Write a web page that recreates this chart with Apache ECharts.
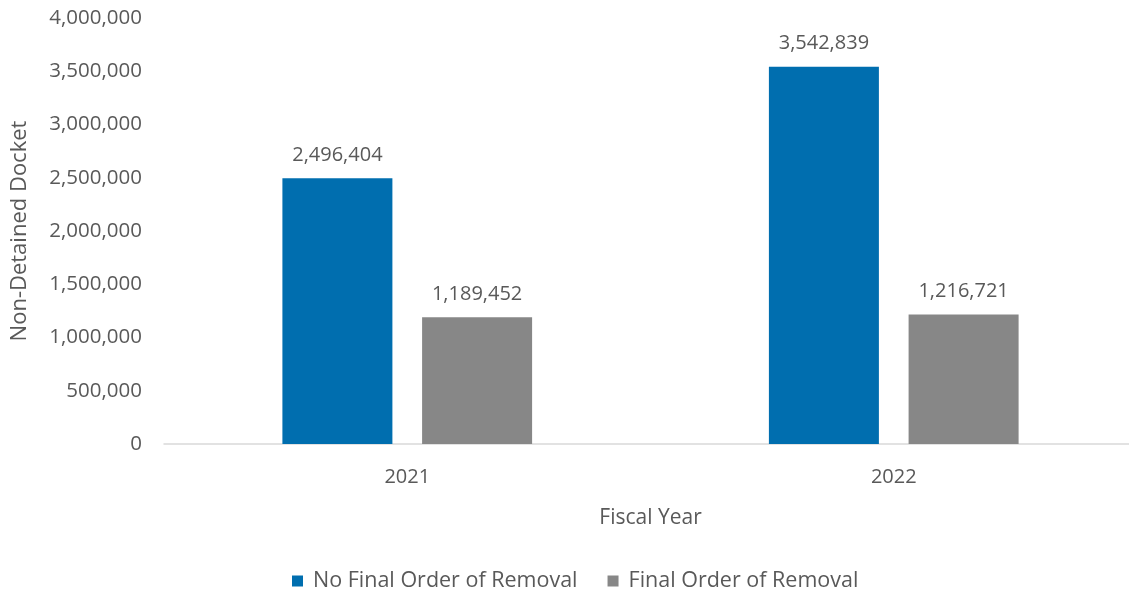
<!DOCTYPE html>
<html><head><meta charset="utf-8">
<script src="https://cdn.jsdelivr.net/npm/echarts@6/dist/echarts.min.js"></script>
<style>html,body{margin:0;padding:0;background:#fff}#c{width:1129px;height:597px}</style>
</head><body><div id="c"></div>
<script>
var categories = ['2021', '2022'];
var noFinalOrder = [2496404, 3542839];
var finalOrder = [1189452, 1216721];
var seriesNames = ['No Final Order of Removal', 'Final Order of Removal'];

var font = "'Open Sans', 'Liberation Sans', sans-serif";
var txt = '#595959';
var fmt = function (v) { return Number(v).toLocaleString('en-US'); };
var chart = echarts.init(document.getElementById('c'));
chart.setOption({
  animation: false,
  textStyle: { fontFamily: font, color: txt },
  grid: { left: 164, width: 973, top: 18, bottom: 153, containLabel: false, outerBoundsMode: 'none' },
  legend: {
    bottom: 0, left: 287, itemWidth: 11, itemHeight: 11, itemGap: 30,
    icon: 'rect',
    textStyle: { fontSize: 21.5, color: txt, fontFamily: font, padding: [0, 0, 0, 5] },
    data: seriesNames
  },
  xAxis: {
    type: 'category', data: categories,
    name: 'Fiscal Year', nameLocation: 'middle', nameGap: 64,
    nameTextStyle: { fontSize: 21, color: txt, fontFamily: font },
    axisLine: { lineStyle: { color: '#d9d9d9', width: 1.5 } },
    axisTick: { show: false },
    axisLabel: { fontSize: 20, color: txt, margin: 23 }
  },
  yAxis: {
    type: 'value', min: 0, max: 4000000, interval: 500000,
    name: 'Non-Detained Docket', nameLocation: 'middle', nameGap: 133,
    nameTextStyle: { fontSize: 22, color: txt, fontFamily: font },
    axisLine: { show: false }, axisTick: { show: false },
    splitLine: { show: false },
    axisLabel: { fontSize: 20.5, color: txt, margin: 22, formatter: fmt }
  },
  series: [
    {
      name: seriesNames[0], type: 'bar', data: noFinalOrder,
      barWidth: 110, barGap: '27%',
      itemStyle: { color: '#006EAF' },
      label: { show: true, position: 'top', distance: 13, fontSize: 20, color: txt, formatter: function (p) { return fmt(p.value); } }
    },
    {
      name: seriesNames[1], type: 'bar', data: finalOrder,
      barWidth: 110,
      itemStyle: { color: '#878787' },
      label: { show: true, position: 'top', distance: 13, fontSize: 20, color: txt, formatter: function (p) { return fmt(p.value); } }
    }
  ]
});
</script></body></html>
